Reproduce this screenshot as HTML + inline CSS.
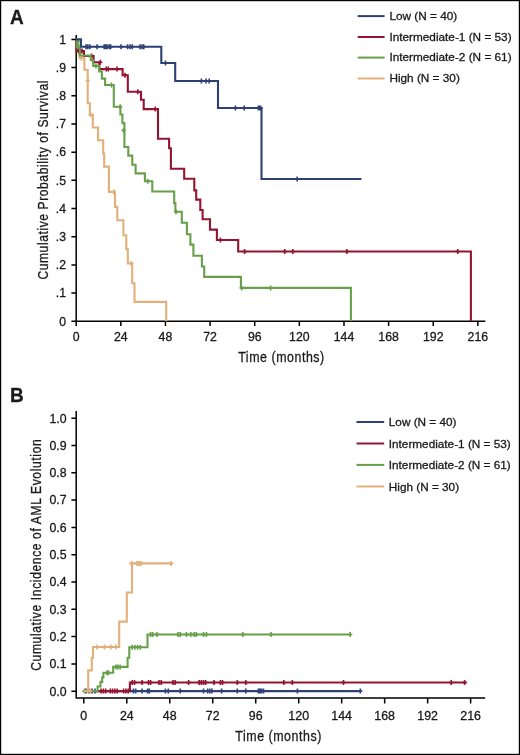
<!DOCTYPE html>
<html><head><meta charset="utf-8"><style>
html,body{margin:0;padding:0;background:#fff;width:520px;height:755px;overflow:hidden}
svg{will-change:transform}
text{font-family:"Liberation Sans",sans-serif}
</style></head><body>
<svg width="520" height="755" viewBox="0 0 520 755" style="display:block">
<rect x="0" y="0" width="520" height="755" fill="#fff"/>
<rect x="0.6" y="0.6" width="518.8" height="753.8" fill="none" stroke="#000" stroke-width="1.2"/>
<g font-family="Liberation Sans, sans-serif" stroke="#1a1a1a" stroke-width="0.3">
<text transform="translate(10.00,23.60) scale(0.95,1)" font-size="20" font-weight="bold" text-anchor="start" fill="#1a1a1a">A</text>
<path d="M76.2,35.0V321.3H485.4M71.4,39.40H76.2M71.4,67.59H76.2M71.4,95.78H76.2M71.4,123.97H76.2M71.4,152.16H76.2M71.4,180.35H76.2M71.4,208.54H76.2M71.4,236.73H76.2M71.4,264.92H76.2M71.4,293.11H76.2M71.4,321.30H76.2M76.20,321.3V325.90M120.83,321.3V325.90M165.46,321.3V325.90M210.09,321.3V325.90M254.72,321.3V325.90M299.35,321.3V325.90M343.98,321.3V325.90M388.61,321.3V325.90M433.24,321.3V325.90M477.87,321.3V325.90" fill="none" stroke="#000" stroke-width="1.5"/>
<text transform="translate(66.00,43.70) scale(1.0,1)" font-size="12.2" font-weight="normal" text-anchor="end" fill="#1a1a1a">1</text>
<text transform="translate(66.00,71.89) scale(1.0,1)" font-size="12.2" font-weight="normal" text-anchor="end" fill="#1a1a1a">.9</text>
<text transform="translate(66.00,100.08) scale(1.0,1)" font-size="12.2" font-weight="normal" text-anchor="end" fill="#1a1a1a">.8</text>
<text transform="translate(66.00,128.27) scale(1.0,1)" font-size="12.2" font-weight="normal" text-anchor="end" fill="#1a1a1a">.7</text>
<text transform="translate(66.00,156.46) scale(1.0,1)" font-size="12.2" font-weight="normal" text-anchor="end" fill="#1a1a1a">.6</text>
<text transform="translate(66.00,184.65) scale(1.0,1)" font-size="12.2" font-weight="normal" text-anchor="end" fill="#1a1a1a">.5</text>
<text transform="translate(66.00,212.84) scale(1.0,1)" font-size="12.2" font-weight="normal" text-anchor="end" fill="#1a1a1a">.4</text>
<text transform="translate(66.00,241.03) scale(1.0,1)" font-size="12.2" font-weight="normal" text-anchor="end" fill="#1a1a1a">.3</text>
<text transform="translate(66.00,269.22) scale(1.0,1)" font-size="12.2" font-weight="normal" text-anchor="end" fill="#1a1a1a">.2</text>
<text transform="translate(66.00,297.41) scale(1.0,1)" font-size="12.2" font-weight="normal" text-anchor="end" fill="#1a1a1a">.1</text>
<text transform="translate(66.00,325.60) scale(1.0,1)" font-size="12.2" font-weight="normal" text-anchor="end" fill="#1a1a1a">0</text>
<text transform="translate(76.20,341.20) scale(1.0,1)" font-size="12.3" font-weight="normal" text-anchor="middle" fill="#1a1a1a">0</text>
<text transform="translate(120.83,341.20) scale(1.0,1)" font-size="12.3" font-weight="normal" text-anchor="middle" fill="#1a1a1a">24</text>
<text transform="translate(165.46,341.20) scale(1.0,1)" font-size="12.3" font-weight="normal" text-anchor="middle" fill="#1a1a1a">48</text>
<text transform="translate(210.09,341.20) scale(1.0,1)" font-size="12.3" font-weight="normal" text-anchor="middle" fill="#1a1a1a">72</text>
<text transform="translate(254.72,341.20) scale(1.0,1)" font-size="12.3" font-weight="normal" text-anchor="middle" fill="#1a1a1a">96</text>
<text transform="translate(299.35,341.20) scale(1.0,1)" font-size="12.3" font-weight="normal" text-anchor="middle" fill="#1a1a1a">120</text>
<text transform="translate(343.98,341.20) scale(1.0,1)" font-size="12.3" font-weight="normal" text-anchor="middle" fill="#1a1a1a">144</text>
<text transform="translate(388.61,341.20) scale(1.0,1)" font-size="12.3" font-weight="normal" text-anchor="middle" fill="#1a1a1a">168</text>
<text transform="translate(433.24,341.20) scale(1.0,1)" font-size="12.3" font-weight="normal" text-anchor="middle" fill="#1a1a1a">192</text>
<text transform="translate(477.87,341.20) scale(1.0,1)" font-size="12.3" font-weight="normal" text-anchor="middle" fill="#1a1a1a">216</text>
<text transform="translate(238.20,361.60) scale(0.8,1)" font-size="15.5" font-weight="normal" text-anchor="start" fill="#1a1a1a" textLength="107.50" lengthAdjust="spacing">Time (months)</text>
<text transform="translate(47.60,279.60) rotate(-90) scale(0.78,1)" font-size="15.5" font-weight="normal" text-anchor="start" fill="#1a1a1a" textLength="255.13" lengthAdjust="spacing">Cumulative Probability of Survival</text>
<path d="M357.7,16.1H384.6" stroke="#2e4174" stroke-width="2"/>
<text transform="translate(389.40,19.90) scale(1.017,1)" font-size="11.6" font-weight="normal" text-anchor="start" fill="#1a1a1a">Low (N = 40)</text>
<path d="M357.7,37.0H384.6" stroke="#931532" stroke-width="2"/>
<text transform="translate(389.40,40.80) scale(1.017,1)" font-size="11.6" font-weight="normal" text-anchor="start" fill="#1a1a1a">Intermediate-1 (N = 53)</text>
<path d="M357.7,57.6H384.6" stroke="#67a04a" stroke-width="2"/>
<text transform="translate(389.40,61.40) scale(1.017,1)" font-size="11.6" font-weight="normal" text-anchor="start" fill="#1a1a1a">Intermediate-2 (N = 61)</text>
<path d="M357.7,78.5H384.6" stroke="#e2b07a" stroke-width="2"/>
<text transform="translate(389.40,82.30) scale(1.017,1)" font-size="11.6" font-weight="normal" text-anchor="start" fill="#1a1a1a">High (N = 30)</text>
<path d="M76.2,39.4H77.0V48.8H79.5V58.2H84.4V69.8H87.7V103.3H89.9V114.7H92.8V127.5H98.1V140.3H103.2V153.6H104.2V166.6H108.9V191.9H115.0V206.9H117.3V220.3H123.4V235.3H126.3V249.1H127.8V263.5H132.2V283.3H134.5V301.9H166.2V321.3" fill="none" stroke="#e2b07a" stroke-width="2.1" stroke-linejoin="miter" stroke-linecap="butt"/>
<path d="M87.7,78.1v5.0M85.6,80.6h4.2M90.6,112.2v5.0M88.5,114.7h4.2M81.5,55.7v5.0M79.4,58.2h4.2M113.8,189.4v5.0M111.7,191.9h4.2M131.3,261.0v5.0M129.2,263.5h4.2" fill="none" stroke="#e2b07a" stroke-width="1.6"/>
<path d="M76.2,39.4H76.6V51.0H84.0V56.0H93.6V62.3H99.3V69.1H122.6V75.3H127.8V91.8H141.0V99.7H143.7V109.1H158.0V138.7H169.1V148.2H170.9V168.7H184.2V178.8H194.3V190.4H196.2V199.6H200.3V210.0H202.6V219.2H210.0V229.6H216.9V240.0H238.2V251.5H470.9V321.3" fill="none" stroke="#931532" stroke-width="2.1" stroke-linejoin="miter" stroke-linecap="butt"/>
<path d="M78.5,48.5v5.0M76.4,51.0h4.2M80.3,48.5v5.0M78.2,51.0h4.2M82.0,48.5v5.0M79.9,51.0h4.2M91.6,53.5v5.0M89.5,56.0h4.2M100.3,59.8v5.0M98.2,62.3h4.2M106.3,66.6v5.0M104.2,69.1h4.2M108.3,66.6v5.0M106.2,69.1h4.2M117.0,66.6v5.0M114.9,69.1h4.2M125.0,72.8v5.0M122.9,75.3h4.2M137.8,89.3v5.0M135.7,91.8h4.2M155.3,106.6v5.0M153.2,109.1h4.2M220.4,237.5v5.0M218.3,240.0h4.2M244.6,249.0v5.0M242.5,251.5h4.2M284.7,249.0v5.0M282.6,251.5h4.2M292.8,249.0v5.0M290.7,251.5h4.2M346.9,249.0v5.0M344.8,251.5h4.2M457.7,249.0v5.0M455.6,251.5h4.2" fill="none" stroke="#931532" stroke-width="1.6"/>
<path d="M76.2,39.4H77.0V47.5H79.8V55.5H90.8V60.3H93.2V65.9H99.1V71.5H101.9V78.6H105.1V85.0H113.8V106.8H120.4V114.5H122.4V123.1H124.4V147.0H128.3V155.6H132.3V164.8H135.6V173.4H144.9V181.2H152.3V191.5H174.2V203.1H175.4V211.8H181.8V222.7H186.9V234.2H190.4V244.6H193.4V255.7H201.9V266.5H204.2V276.9H240.9V287.9H350.9V321.3" fill="none" stroke="#67a04a" stroke-width="2.1" stroke-linejoin="miter" stroke-linecap="butt"/>
<path d="M78.0,39.0v5.0M75.9,41.5h4.2M78.5,43.0v5.0M76.4,45.5h4.2M96.0,63.4v5.0M93.9,65.9h4.2M123.6,127.9v5.0M121.5,130.4h4.2M111.4,82.5v5.0M109.3,85.0h4.2M120.2,104.3v5.0M118.1,106.8h4.2M147.7,178.7v5.0M145.6,181.2h4.2M176.0,209.3v5.0M173.9,211.8h4.2M241.7,285.4v5.0M239.6,287.9h4.2M270.6,285.4v5.0M268.5,287.9h4.2" fill="none" stroke="#67a04a" stroke-width="1.6"/>
<path d="M76.2,39.4H81.0V46.8H161.3V63.0H175.2V81.0H218.0V108.0H261.5V179.0H361.5" fill="none" stroke="#2e4174" stroke-width="2.1" stroke-linejoin="miter" stroke-linecap="butt"/>
<path d="M86.0,44.3v5.0M83.9,46.8h4.2M87.8,44.3v5.0M85.7,46.8h4.2M89.8,44.3v5.0M87.7,46.8h4.2M97.1,44.3v5.0M95.0,46.8h4.2M104.2,44.3v5.0M102.1,46.8h4.2M105.8,44.3v5.0M103.7,46.8h4.2M107.1,44.3v5.0M105.0,46.8h4.2M109.2,44.3v5.0M107.1,46.8h4.2M110.6,44.3v5.0M108.5,46.8h4.2M121.0,44.3v5.0M118.9,46.8h4.2M127.6,44.3v5.0M125.5,46.8h4.2M130.0,44.3v5.0M127.9,46.8h4.2M132.2,44.3v5.0M130.1,46.8h4.2M140.0,44.3v5.0M137.9,46.8h4.2M142.0,44.3v5.0M139.9,46.8h4.2M143.8,44.3v5.0M141.7,46.8h4.2M165.5,60.5v5.0M163.4,63.0h4.2M201.4,78.5v5.0M199.3,81.0h4.2M206.0,78.5v5.0M203.9,81.0h4.2M209.2,78.5v5.0M207.1,81.0h4.2M235.4,105.5v5.0M233.3,108.0h4.2M244.2,105.5v5.0M242.1,108.0h4.2M258.4,105.5v5.0M256.3,108.0h4.2M259.6,105.5v5.0M257.5,108.0h4.2M260.6,105.5v5.0M258.5,108.0h4.2M297.2,176.5v5.0M295.1,179.0h4.2" fill="none" stroke="#2e4174" stroke-width="1.6"/>
<text transform="translate(10.00,401.90) scale(0.95,1)" font-size="20" font-weight="bold" text-anchor="start" fill="#1a1a1a">B</text>
<path d="M76.2,411.0V698.0H485.2M71.4,418.20H76.2M71.4,445.50H76.2M71.4,472.80H76.2M71.4,500.10H76.2M71.4,527.40H76.2M71.4,554.70H76.2M71.4,582.00H76.2M71.4,609.30H76.2M71.4,636.60H76.2M71.4,663.90H76.2M71.4,691.20H76.2M83.80,698.0V703.6M126.78,698.0V703.6M169.76,698.0V703.6M212.74,698.0V703.6M255.72,698.0V703.6M298.70,698.0V703.6M341.68,698.0V703.6M384.66,698.0V703.6M427.64,698.0V703.6M470.62,698.0V703.6" fill="none" stroke="#000" stroke-width="1.5"/>
<text transform="translate(66.60,422.50) scale(1.0,1)" font-size="12.3" font-weight="normal" text-anchor="end" fill="#1a1a1a">1.0</text>
<text transform="translate(66.60,449.80) scale(1.0,1)" font-size="12.3" font-weight="normal" text-anchor="end" fill="#1a1a1a">0.9</text>
<text transform="translate(66.60,477.10) scale(1.0,1)" font-size="12.3" font-weight="normal" text-anchor="end" fill="#1a1a1a">0.8</text>
<text transform="translate(66.60,504.40) scale(1.0,1)" font-size="12.3" font-weight="normal" text-anchor="end" fill="#1a1a1a">0.7</text>
<text transform="translate(66.60,531.70) scale(1.0,1)" font-size="12.3" font-weight="normal" text-anchor="end" fill="#1a1a1a">0.6</text>
<text transform="translate(66.60,559.00) scale(1.0,1)" font-size="12.3" font-weight="normal" text-anchor="end" fill="#1a1a1a">0.5</text>
<text transform="translate(66.60,586.30) scale(1.0,1)" font-size="12.3" font-weight="normal" text-anchor="end" fill="#1a1a1a">0.4</text>
<text transform="translate(66.60,613.60) scale(1.0,1)" font-size="12.3" font-weight="normal" text-anchor="end" fill="#1a1a1a">0.3</text>
<text transform="translate(66.60,640.90) scale(1.0,1)" font-size="12.3" font-weight="normal" text-anchor="end" fill="#1a1a1a">0.2</text>
<text transform="translate(66.60,668.20) scale(1.0,1)" font-size="12.3" font-weight="normal" text-anchor="end" fill="#1a1a1a">0.1</text>
<text transform="translate(66.60,695.50) scale(1.0,1)" font-size="12.3" font-weight="normal" text-anchor="end" fill="#1a1a1a">0.0</text>
<text transform="translate(83.80,719.80) scale(1.0,1)" font-size="12.4" font-weight="normal" text-anchor="middle" fill="#1a1a1a">0</text>
<text transform="translate(126.78,719.80) scale(1.0,1)" font-size="12.4" font-weight="normal" text-anchor="middle" fill="#1a1a1a">24</text>
<text transform="translate(169.76,719.80) scale(1.0,1)" font-size="12.4" font-weight="normal" text-anchor="middle" fill="#1a1a1a">48</text>
<text transform="translate(212.74,719.80) scale(1.0,1)" font-size="12.4" font-weight="normal" text-anchor="middle" fill="#1a1a1a">72</text>
<text transform="translate(255.72,719.80) scale(1.0,1)" font-size="12.4" font-weight="normal" text-anchor="middle" fill="#1a1a1a">96</text>
<text transform="translate(298.70,719.80) scale(1.0,1)" font-size="12.4" font-weight="normal" text-anchor="middle" fill="#1a1a1a">120</text>
<text transform="translate(341.68,719.80) scale(1.0,1)" font-size="12.4" font-weight="normal" text-anchor="middle" fill="#1a1a1a">144</text>
<text transform="translate(384.66,719.80) scale(1.0,1)" font-size="12.4" font-weight="normal" text-anchor="middle" fill="#1a1a1a">168</text>
<text transform="translate(427.64,719.80) scale(1.0,1)" font-size="12.4" font-weight="normal" text-anchor="middle" fill="#1a1a1a">192</text>
<text transform="translate(470.62,719.80) scale(1.0,1)" font-size="12.4" font-weight="normal" text-anchor="middle" fill="#1a1a1a">216</text>
<text transform="translate(235.30,740.50) scale(0.8,1)" font-size="15.5" font-weight="normal" text-anchor="start" fill="#1a1a1a" textLength="107.50" lengthAdjust="spacing">Time (months)</text>
<text transform="translate(41.30,670.80) rotate(-90) scale(0.78,1)" font-size="15.5" font-weight="normal" text-anchor="start" fill="#1a1a1a" textLength="296.79" lengthAdjust="spacing">Cumulative Incidence of AML Evolution</text>
<path d="M356.5,422.0H384.2" stroke="#2e4174" stroke-width="2"/>
<text transform="translate(388.80,426.20) scale(1.015,1)" font-size="11.6" font-weight="normal" text-anchor="start" fill="#1a1a1a">Low (N = 40)</text>
<path d="M356.5,443.5H384.2" stroke="#931532" stroke-width="2"/>
<text transform="translate(388.80,447.70) scale(1.015,1)" font-size="11.6" font-weight="normal" text-anchor="start" fill="#1a1a1a">Intermediate-1 (N = 53)</text>
<path d="M356.5,464.9H384.2" stroke="#67a04a" stroke-width="2"/>
<text transform="translate(388.80,469.10) scale(1.015,1)" font-size="11.6" font-weight="normal" text-anchor="start" fill="#1a1a1a">Intermediate-2 (N = 61)</text>
<path d="M356.5,486.5H384.2" stroke="#e2b07a" stroke-width="2"/>
<text transform="translate(388.80,490.70) scale(1.015,1)" font-size="11.6" font-weight="normal" text-anchor="start" fill="#1a1a1a">High (N = 30)</text>
<path d="M83.8,691.1H360.8" fill="none" stroke="#2e4174" stroke-width="2.1" stroke-linejoin="miter" stroke-linecap="butt"/>
<path d="M86.0,688.6v5.0M83.9,691.1h4.2M89.0,688.6v5.0M86.9,691.1h4.2M92.0,688.6v5.0M89.9,691.1h4.2M95.0,688.6v5.0M92.9,691.1h4.2M133.4,688.6v5.0M131.3,691.1h4.2M135.7,688.6v5.0M133.6,691.1h4.2M142.0,688.6v5.0M139.9,691.1h4.2M147.6,688.6v5.0M145.5,691.1h4.2M149.3,688.6v5.0M147.2,691.1h4.2M165.4,688.6v5.0M163.3,691.1h4.2M168.3,688.6v5.0M166.2,691.1h4.2M180.2,688.6v5.0M178.1,691.1h4.2M203.5,688.6v5.0M201.4,691.1h4.2M207.7,688.6v5.0M205.6,691.1h4.2M209.8,688.6v5.0M207.7,691.1h4.2M211.9,688.6v5.0M209.8,691.1h4.2M221.6,688.6v5.0M219.5,691.1h4.2M237.3,688.6v5.0M235.2,691.1h4.2M245.8,688.6v5.0M243.7,691.1h4.2M258.4,688.6v5.0M256.3,691.1h4.2M260.0,688.6v5.0M257.9,691.1h4.2M261.5,688.6v5.0M259.4,691.1h4.2M263.5,688.6v5.0M261.4,691.1h4.2M297.4,688.6v5.0M295.3,691.1h4.2M360.3,688.6v5.0M358.2,691.1h4.2" fill="none" stroke="#2e4174" stroke-width="1.6"/>
<path d="M83.8,691.1H129.9V682.5H466.7" fill="none" stroke="#931532" stroke-width="2.1" stroke-linejoin="miter" stroke-linecap="butt"/>
<path d="M101.1,688.6v5.0M99.0,691.1h4.2M103.4,688.6v5.0M101.3,691.1h4.2M105.7,688.6v5.0M103.6,691.1h4.2M110.3,688.6v5.0M108.2,691.1h4.2M112.6,688.6v5.0M110.5,691.1h4.2M114.9,688.6v5.0M112.8,691.1h4.2M117.2,688.6v5.0M115.1,691.1h4.2M123.6,688.6v5.0M121.5,691.1h4.2M125.9,688.6v5.0M123.8,691.1h4.2M128.2,688.6v5.0M126.1,691.1h4.2M132.2,680.0v5.0M130.1,682.5h4.2M134.5,680.0v5.0M132.4,682.5h4.2M142.1,680.0v5.0M140.0,682.5h4.2M148.5,680.0v5.0M146.4,682.5h4.2M150.6,680.0v5.0M148.5,682.5h4.2M159.0,680.0v5.0M156.9,682.5h4.2M161.2,680.0v5.0M159.1,682.5h4.2M173.0,680.0v5.0M170.9,682.5h4.2M175.1,680.0v5.0M173.0,682.5h4.2M188.6,680.0v5.0M186.5,682.5h4.2M199.2,680.0v5.0M197.1,682.5h4.2M201.3,680.0v5.0M199.2,682.5h4.2M203.5,680.0v5.0M201.4,682.5h4.2M205.6,680.0v5.0M203.5,682.5h4.2M214.0,680.0v5.0M211.9,682.5h4.2M220.4,680.0v5.0M218.3,682.5h4.2M222.5,680.0v5.0M220.4,682.5h4.2M237.3,680.0v5.0M235.2,682.5h4.2M245.8,680.0v5.0M243.7,682.5h4.2M283.8,680.0v5.0M281.7,682.5h4.2M292.3,680.0v5.0M290.2,682.5h4.2M343.5,680.0v5.0M341.4,682.5h4.2M451.2,680.0v5.0M449.1,682.5h4.2M464.6,680.0v5.0M462.5,682.5h4.2" fill="none" stroke="#931532" stroke-width="1.6"/>
<path d="M83.8,691.1H97.6V686.5H100.5V681.9H102.2V677.3H103.4V672.7H113.2V666.9H127.6V657.7H129.3V647.3H147.5V634.5H350.8" fill="none" stroke="#67a04a" stroke-width="2.1" stroke-linejoin="miter" stroke-linecap="butt"/>
<path d="M84.5,688.6v5.0M82.4,691.1h4.2M107.0,670.2v5.0M104.9,672.7h4.2M108.5,670.2v5.0M106.4,672.7h4.2M116.0,664.4v5.0M113.9,666.9h4.2M117.8,664.4v5.0M115.7,666.9h4.2M120.1,664.4v5.0M118.0,666.9h4.2M132.2,644.8v5.0M130.1,647.3h4.2M134.9,644.8v5.0M132.8,647.3h4.2M137.6,644.8v5.0M135.5,647.3h4.2M140.3,644.8v5.0M138.2,647.3h4.2M150.6,632.0v5.0M148.5,634.5h4.2M152.7,632.0v5.0M150.6,634.5h4.2M156.9,632.0v5.0M154.8,634.5h4.2M178.1,632.0v5.0M176.0,634.5h4.2M180.2,632.0v5.0M178.1,634.5h4.2M186.5,632.0v5.0M184.4,634.5h4.2M190.8,632.0v5.0M188.7,634.5h4.2M194.1,632.0v5.0M192.0,634.5h4.2M196.3,632.0v5.0M194.2,634.5h4.2M203.5,632.0v5.0M201.4,634.5h4.2M206.4,632.0v5.0M204.3,634.5h4.2M242.8,632.0v5.0M240.7,634.5h4.2M271.1,632.0v5.0M269.0,634.5h4.2M350.2,632.0v5.0M348.1,634.5h4.2" fill="none" stroke="#67a04a" stroke-width="1.6"/>
<path d="M83.8,691.1H88.2V670.4H91.8V657.7H93.0V647.0H119.2V621.6H126.8V592.5H132.0V563.4H171.8" fill="none" stroke="#e2b07a" stroke-width="2.1" stroke-linejoin="miter" stroke-linecap="butt"/>
<path d="M90.0,688.6v5.0M87.9,691.1h4.2M97.0,644.5v5.0M94.9,647.0h4.2M104.5,644.5v5.0M102.4,647.0h4.2M110.9,644.5v5.0M108.8,647.0h4.2M116.0,644.5v5.0M113.9,647.0h4.2M131.5,560.9v5.0M129.4,563.4h4.2M136.9,560.9v5.0M134.8,563.4h4.2M138.9,560.9v5.0M136.8,563.4h4.2M141.0,560.9v5.0M138.9,563.4h4.2M171.2,560.9v5.0M169.1,563.4h4.2" fill="none" stroke="#e2b07a" stroke-width="1.6"/>
</g></svg>
</body></html>
